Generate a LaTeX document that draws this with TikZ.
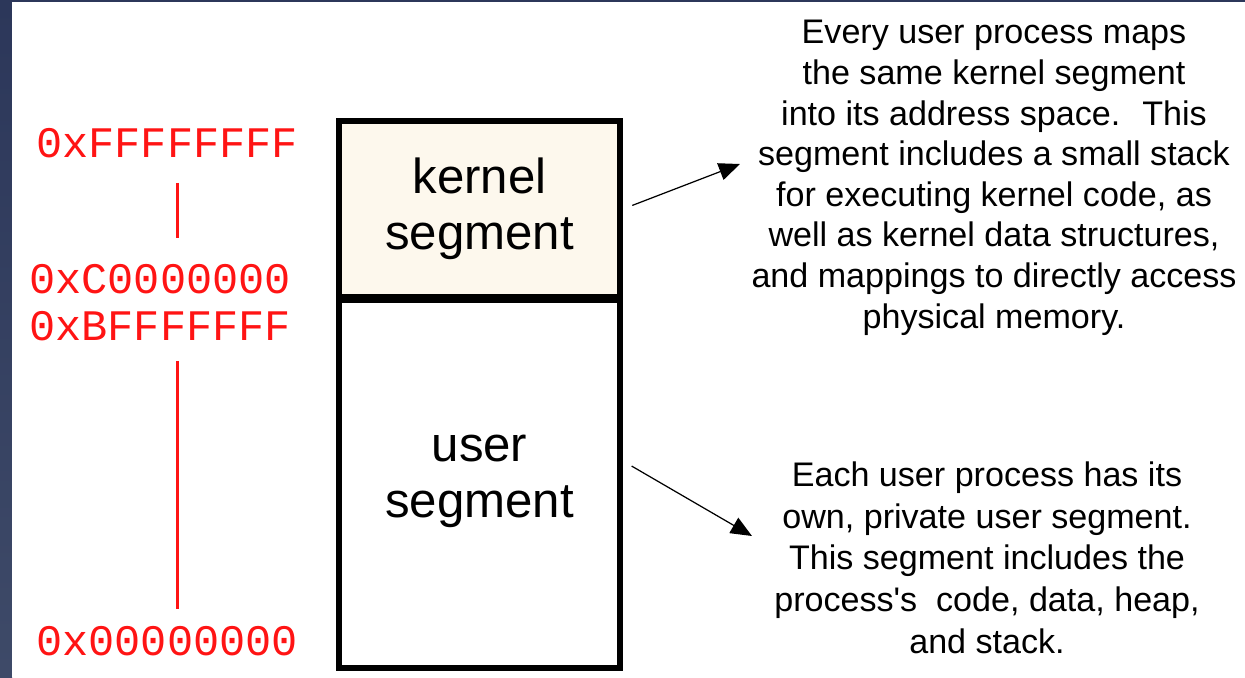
\documentclass[tikz,border=0pt]{standalone}
\usepackage{fontspec}
\setmainfont{Liberation Sans}
\newfontfamily\addrfont{Liberation Mono}
\usetikzlibrary{arrows.meta,calc}
\definecolor{slidebg}{RGB}{44,55,90}
\definecolor{slidebglow}{RGB}{62,74,104}
\definecolor{kernelfill}{RGB}{253,248,237}
\definecolor{addrred}{RGB}{255,20,20}

\begin{document}
\begin{tikzpicture}[
    x=0.02cm, y=-0.02cm,
    segbox/.style={draw=black, line width=3.4pt, minimum width=5.62cm,
                   align=center, inner sep=0pt, font=\fontsize{28}{31.7}\selectfont},
    addr/.style={anchor=base west, inner sep=0pt, text=addrred,
                 font=\addrfont\fontsize{24.8}{26}\selectfont},
    addrline/.style={draw=addrred, line width=1.3pt},
    desc/.style={anchor=base, align=center, inner sep=0pt,
                 font=\fontsize{19.4}{23.1}\selectfont},
    pointer/.style={-{Triangle[length=12pt,width=10pt]}, line width=0.7pt,
                    shorten <=0.2cm}
  ]
    \useasboundingbox (0,0) rectangle (1245,677);
    % slide frame
    \fill[slidebg] (0,0) rectangle (1245,677);
    \shade[top color=slidebg, bottom color=slidebglow] (0,0) rectangle (12,677);
    \fill[white] (12,2) rectangle (1245,677);

    % the two segments of the address space
    \node[segbox, fill=kernelfill, minimum height=3.52cm] (kernel) at (479.5,209) {kernel\\segment};
    \node[segbox, fill=white, minimum height=7.36cm] (user) at (479.5,484) {user\\segment\\[-0.8cm]};

    % addresses
    \node[addr] (ffff) at (36,157) {0xFFFFFFFF};
    \node[addr] (c000) at (29,293) {0xC0000000};
    \node[addr] (bfff) at (29,340) {0xBFFFFFFF};
    \node[addr] (zero) at (36,655) {0x00000000};

    \coordinate (bar) at ([xshift=0.21cm]ffff.south);
    \draw[addrline, shorten <=0.5cm, shorten >=0.52cm]
      (bar) -- (bar |- c000.north);
    \draw[addrline, shorten <=0.4cm, shorten >=0.34cm]
      (bar |- bfff.south) -- (bar |- zero.north);

    % descriptions (anchored on the baseline of their last line)
    \node[desc] (kdesc) at (994,328)
      {Every user process maps\\the same kernel segment\\into its address space.~ This\\
       segment includes a small stack\\for executing kernel code, as\\
       well as kernel data structures,\\and mappings to directly access\\physical memory.};
    \node[desc, font=\fontsize{19.4}{23.7}\selectfont] (udesc) at (987,653)
      {Each user process has its\\own, private user segment.\\This segment includes the\\
       process\textquotesingle s~ code, data, heap,\\and stack.};

    \coordinate (khead) at (740,164);
    \coordinate (uhead) at (752,536);
    \draw[pointer] (kernel.east) -- (khead);
    \draw[pointer] ($(user.east)+(0,-23)$) -- (uhead);
\end{tikzpicture}
\end{document}
